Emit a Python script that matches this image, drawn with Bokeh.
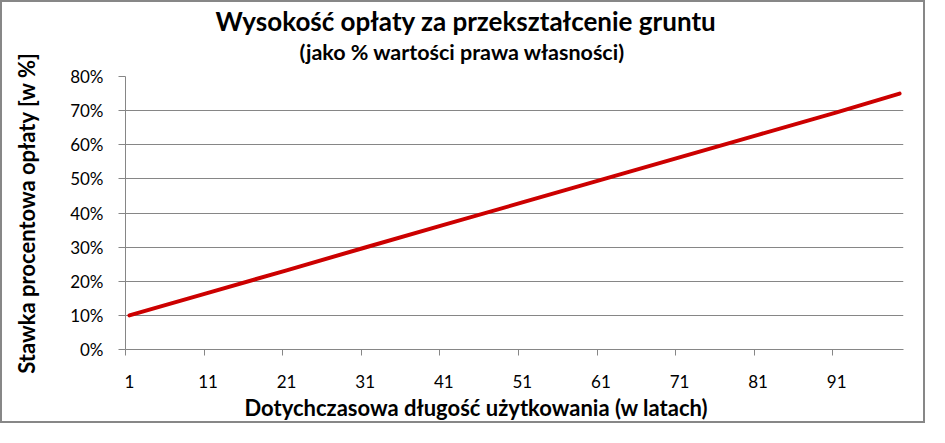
from bokeh.plotting import figure
from bokeh.models import FixedTicker, Range1d, Title
from bokeh.embed import file_html
from bokeh.resources import INLINE

# ---- data ----
years = [1, 11, 21, 31, 41, 51, 61, 71, 81, 91, 99]
fee_pct = [10.0, 16.6, 23.2, 29.9, 36.5, 43.1, 49.7, 56.3, 62.9, 69.5, 75.0]

x_tick_pos = [1, 11, 21, 31, 41, 51, 61, 71, 81, 91]
x_tick_labels = ["1", "11", "21", "31", "41", "51", "61", "71", "81", "91"]
x_boundaries = [0.5, 10.5, 20.5, 30.5, 40.5, 50.5, 60.5, 70.5, 80.5, 90.5]
y_tick_pos = [0, 10, 20, 30, 40, 50, 60, 70, 80]
y_tick_labels = ["0%", "10%", "20%", "30%", "40%", "50%", "60%", "70%", "80%"]

title_text = "Wysokość opłaty za przekształcenie gruntu"
subtitle_text = "(jako % wartości prawa własności)"
x_title = "Dotychczasowa długość użytkowania (w latach)"
y_title = "Stawka procentowa opłaty [w %]"

FONT = "Lato"
GRAY = "#868686"

W, H = 925, 423
FL, FR, FT, FB = 123, 901, 73, 347  # frame edges in canvas px

p = figure(width=W, height=H, output_backend="svg", toolbar_location=None,
           title=None,
           x_range=Range1d(0.5, 99.5), y_range=Range1d(0, 80),
           min_border_left=FL, min_border_right=W - FR,
           min_border_top=FT, min_border_bottom=H - FB)
p.styles = {"border": "2px solid #878787"}
p.outline_line_color = None
p.background_fill_color = "white"
p.border_fill_color = "white"

p.line(years, fee_pct, line_color="#CC0000", line_width=4,
       line_join="round", line_cap="round")

# x axis
xa = p.xaxis[0]
xa.ticker = FixedTicker(ticks=x_tick_pos, minor_ticks=x_boundaries)
xa.major_label_overrides = {t: l for t, l in zip(x_tick_pos, x_tick_labels)}
xa.major_tick_line_color = None
xa.major_tick_out = 0
xa.major_tick_in = 0
xa.minor_tick_line_color = GRAY
xa.minor_tick_out = 6
xa.minor_tick_in = 0
xa.axis_line_color = GRAY
xa.major_label_standoff = 19
xa.major_label_text_font = FONT
xa.major_label_text_font_size = "17px"
xa.major_label_text_color = "black"

# y axis (its label is the vertical axis title)
ya = p.yaxis[0]
ya.ticker = FixedTicker(ticks=y_tick_pos, minor_ticks=[])
ya.major_label_overrides = {t: l for t, l in zip(y_tick_pos, y_tick_labels)}
ya.major_tick_line_color = GRAY
ya.major_tick_out = 7
ya.major_tick_in = 0
ya.minor_tick_line_color = None
ya.axis_line_color = GRAY
ya.major_label_standoff = 15
ya.major_label_text_font = FONT
ya.major_label_text_font_size = "17px"
ya.major_label_text_color = "black"
ya.axis_label = y_title
ya.axis_label_text_font = FONT
ya.axis_label_text_font_size = "22px"
ya.axis_label_text_font_style = "bold"
ya.axis_label_text_color = "black"
ya.axis_label_standoff = 27

p.xgrid.grid_line_color = None
p.ygrid.grid_line_color = GRAY
p.ygrid.grid_line_width = 1

def ttl(text, size, offset, standoff, valign="bottom"):
    return Title(text=text, text_font=FONT, text_font_size=size,
                 text_font_style="bold", text_color="black",
                 align="left", offset=offset, standoff=standoff,
                 vertical_align=valign)

# blank spacer between plot area and subtitle
p.add_layout(Title(text=" ", text_font_size="1px", standoff=9), "above")
p.add_layout(ttl(subtitle_text, "21.5px", 174, 0), "above")
p.add_layout(ttl(title_text, "26px", 90, 0), "above")
p.add_layout(ttl(x_title, "22px", 119, 2), "below")

open("out.html", "w").write(file_html(p, INLINE))
